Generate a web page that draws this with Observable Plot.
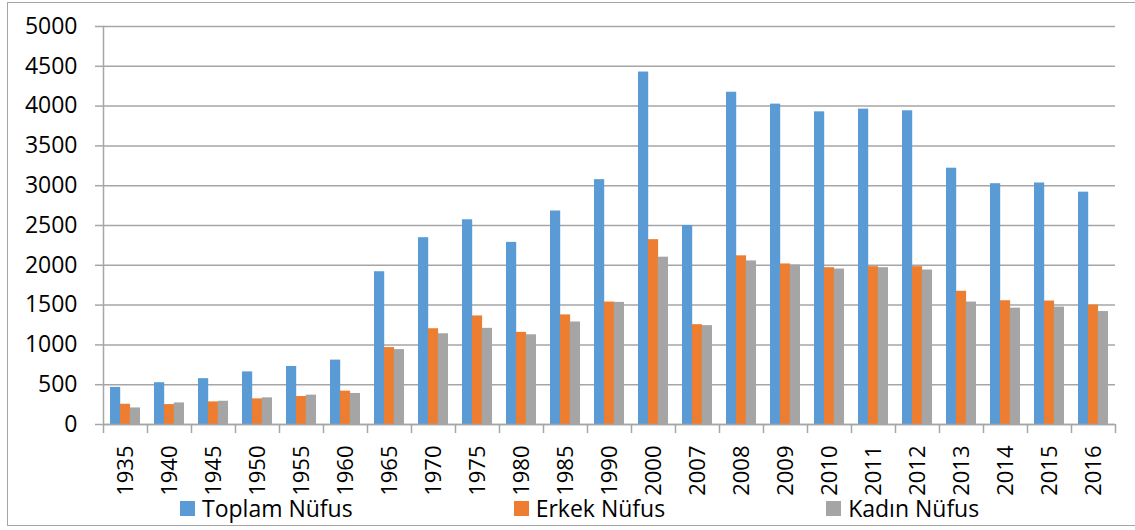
<!DOCTYPE html>
<html>
<head>
<meta charset="utf-8">
<script src="https://cdn.jsdelivr.net/npm/d3@7"></script>
<script src="https://cdn.jsdelivr.net/npm/@observablehq/plot@0.6"></script>
<style>
  html, body { margin: 0; padding: 0; background: #fff; }
  #wrap { position: relative; width: 1135px; height: 530px; overflow: hidden; font-family: "Open Sans", sans-serif; }
  #border { position: absolute; left: 7px; top: 2px; width: 1140px; height: 524px; border: 1.5px solid #a6a6a6; box-sizing: border-box; }
  #chart { position: absolute; left: 0; top: 0; }
  #chart svg text { font-family: "Open Sans", sans-serif !important; font-size: 23px !important; }
  #chart svg g[aria-label="x-axis tick label"] text { font-size: 22px !important; }
  #legend { position: absolute; left: 180px; top: 492px; display: flex; gap: 161px; font-size: 23px; color: #000; }
  .item { display: flex; align-items: center; gap: 7px; }
  .sw { width: 15px; height: 15px; display: inline-block; }
</style>
</head>
<body>
<div id="wrap">
  <div id="border"></div>
  <div id="chart"></div>
  <div id="legend"></div>
</div>
<script>
const years = ["1935","1940","1945","1950","1955","1960","1965","1970","1975","1980","1985","1990","2000","2007","2008","2009","2010","2011","2012","2013","2014","2015","2016"];
const toplam = [466,525,576,661,729,809,1919,2347,2572,2288,2682,3076,4428,2500,4174,4025,3928,3962,3941,3220,3025,3034,2919];
const erkek  = [254,250,284,322,352,419,966,1203,1364,1157,1377,1538,2322,1254,2119,2017,1970,1983,1983,1674,1555,1551,1500];
const kadin  = [208,271,292,335,369,390,941,1140,1208,1127,1288,1534,2102,1242,2055,2004,1953,1970,1941,1538,1462,1475,1419];
const seriesNames = ["Toplam Nüfus","Erkek Nüfus","Kadın Nüfus"];
const seriesColors = ["#5b9bd5","#ed7d31","#a5a5a5"];
const yTicks = [0,500,1000,1500,2000,2500,3000,3500,4000,4500,5000];

const W = 1135, H = 495, mL = 103, mR = 20, mT = 26, mB = 71;
const step = (W - mL - mR) / years.length;
const pin = 0.325;
const third = step * (1 - pin) / 3;
const gridColor = "#a6a6a6";

const table = years.map((y, i) => ({year: y, toplam: toplam[i], erkek: erkek[i], kadin: kadin[i]}));

const chart = Plot.plot({
  width: W, height: H,
  marginLeft: mL, marginRight: mR, marginTop: mT, marginBottom: mB,
  style: {fontFamily: "'Open Sans', sans-serif", fontSize: "23px", color: "#000", background: "transparent", overflow: "visible"},
  x: {domain: years, paddingInner: pin, paddingOuter: pin / 2, axis: null},
  y: {domain: [0, 5000], axis: null},
  marks: [
    Plot.ruleY(yTicks, {stroke: gridColor, strokeWidth: 1.5}),
    Plot.frame({anchor: "left", stroke: gridColor, strokeWidth: 1.5}),
    Plot.axisY(yTicks, {tickSize: 8, tickPadding: 18, stroke: gridColor, strokeWidth: 1.5, fill: "#000", tickFormat: d => String(d), label: null}),
    Plot.barY(table, {x: "year", y: "toplam", fill: seriesColors[0], insetLeft: 0, insetRight: 2 * third}),
    Plot.barY(table, {x: "year", y: "erkek", fill: seriesColors[1], insetLeft: third, insetRight: third}),
    Plot.barY(table, {x: "year", y: "kadin", fill: seriesColors[2], insetLeft: 2 * third, insetRight: 0}),
    Plot.ruleY([0], {stroke: gridColor, strokeWidth: 1.5}),
    Plot.axisX({tickSize: 0, tickRotate: -90, tickPadding: 21, fill: "#000", label: null}),
    Plot.axisX({tickSize: 9, dx: -step / 2, tickFormat: () => "", stroke: gridColor, strokeWidth: 1.5, label: null}),
    Plot.axisX([years[years.length - 1]], {tickSize: 9, dx: step / 2, tickFormat: () => "", stroke: gridColor, strokeWidth: 1.5, label: null})
  ]
});
document.getElementById("chart").appendChild(chart);

const legend = document.getElementById("legend");
seriesNames.forEach((name, i) => {
  const it = document.createElement("div");
  it.className = "item";
  const sw = document.createElement("span");
  sw.className = "sw";
  sw.style.background = seriesColors[i];
  const tx = document.createElement("span");
  tx.textContent = name;
  it.appendChild(sw); it.appendChild(tx);
  legend.appendChild(it);
});
</script>
</body>
</html>
